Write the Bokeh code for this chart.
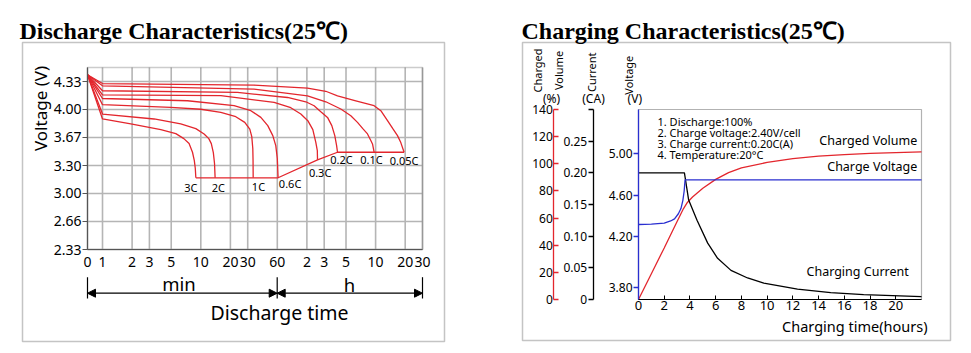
import math
from bokeh.plotting import figure
from bokeh.models import Range1d, FixedTicker, LinearAxis, Label, BoxAnnotation, Arrow, NormalHead
from bokeh.layouts import row
from bokeh.embed import file_html
from bokeh.resources import INLINE
from bokeh.core.properties import value

RED = "#e3262d"
BLUE = "#2a2fd0"
FONT = "Noto Sans"
TITLE_FONT = "Liberation Serif"

# ---------------- Discharge characteristics data ----------------
X_START = 0.7036          # the "0" position of the time axis (minutes)
X_END = 1800              # 30 h in minutes
V_START = 4.413           # common starting voltage
V_BOTTOM, V_TOP = 2.333, 4.5
DIS_TICKS = [X_START, 1, 2, 3, 5, 10, 20, 30, 60, 120, 180, 300, 600, 1200, 1800]
DIS_TICK_LABELS = ["0", "1", "2", "3", "5", "10", "20", "30", "60", "2", "3", "5", "10", "20", "30"]
V_TICKS = [2.333, 2.667, 3.000, 3.333, 3.667, 4.000, 4.333]
V_TICK_LABELS = ["2.33", "2.66", "3.00", "3.30", "3.67", "4.00", "4.33"]

T_3C = [X_START, 1, 1.94, 3.92, 5.57, 6.72, 7.60, 8.23, 8.59, 8.79, 8.90]
V_3C = [V_START, 3.887, 3.828, 3.760, 3.713, 3.653, 3.594, 3.491, 3.392, 3.297, 3.187]
T_2C = [X_START, 1, 3.35, 6.25, 8.90, 10.8, 12.06, 12.79, 13.41, 13.79, 13.98]
V_2C = [V_START, 3.946, 3.887, 3.828, 3.772, 3.709, 3.653, 3.594, 3.487, 3.357, 3.187]
T_1C = [X_START, 1, 4.95, 10, 15.98, 22.7, 28.0, 31.5, 33.0, 33.8, 34.0, 34.1]
V_1C = [V_START, 4.057, 4.025, 4.003, 3.965, 3.914, 3.847, 3.766, 3.677, 3.535, 3.392, 3.187]
T_06C = [X_START, 1, 7.32, 21.8, 32.3, 40.8, 48.0, 54.0, 57.9, 60.0, 61.1]
V_06C = [V_START, 4.131, 4.104, 4.045, 3.986, 3.906, 3.808, 3.689, 3.570, 3.416, 3.187]
T_03C = [X_START, 1, 16.0, 55.7, 82.3, 104.1, 122.6, 137.9, 147.9, 153.2, 153.9]
V_03C = [V_START, 4.175, 4.164, 4.084, 4.021, 3.946, 3.867, 3.760, 3.609, 3.511, 3.401]
T_02C = [X_START, 1, 23.6, 76.2, 117.0, 142.1, 166.3, 194.5, 215.1, 230.7, 240.7, 245.8]
V_02C = [V_START, 4.223, 4.203, 4.143, 4.092, 4.045, 3.974, 3.906, 3.808, 3.689, 3.570, 3.491]
T_01C = [X_START, 1, 34.8, 121.8, 186.9, 265.6, 335.7, 392.6, 444.6, 496.4, 536.3, 558.1, 579.4]
V_01C = [V_START, 4.282, 4.243, 4.163, 4.092, 4.006, 3.926, 3.847, 3.772, 3.709, 3.630, 3.590, 3.491]
T_005C = [X_START, 1, 34.8, 121.8, 186.9, 245.8, 377.5, 579.4, 677.9, 793.3, 898.1, 1002, 1083, 1169.5]
V_005C = [V_START, 4.309, 4.290, 4.255, 4.217, 4.163, 4.104, 4.045, 3.986, 3.867, 3.772, 3.689, 3.606, 3.491]

RATES = ["3C", "2C", "1C", "0.6C", "0.3C", "0.2C", "0.1C", "0.05C"]
RATE_LABEL_T = [7.91, 15.1, 38.6, 81, 163.6, 270, 545, 1170]
RATE_LABEL_V = [3.076, 3.076, 3.084, 3.116, 3.254, 3.404, 3.404, 3.392]

# ---------------- Charging characteristics data ----------------
H_MAX = 22
CH_X_TICKS = [0, 2, 4, 6, 8, 10, 12, 14, 16, 18, 20]
VOLT_RANGE = (3.590, 5.429)
VOLT_TICKS = [3.707, 4.2, 4.6, 5.0]
VOLT_TICK_LABELS = ["3.80", "4.20", "4.60", "5.00"]
CUR_RANGE = (0, 0.30)
CUR_TICKS = [0, 0.05, 0.10, 0.15, 0.20, 0.25, 0.30]
CUR_TICK_LABELS = ["0", "0.05", "0.10", "0.15", "0.20", "0.25", ""]
VOL_RANGE = (0, 140)
VOL_TICKS = [0, 20, 40, 60, 80, 100, 120, 140]
VOL_TICK_LABELS = ["0", "20", "40", "60", "80", "100", "120", "140"]

T_VOL = [0, 1, 2, 3, 3.5, 3.8, 4.2, 5, 6, 7, 8, 10, 12, 14, 16, 18, 20, 22]
VOL = [0, 19, 38, 57.5, 67, 71.5, 75.5, 82, 88.5, 93.5, 97, 101, 103.8, 105.6, 106.8, 107.6, 108.2, 108.8]
T_CUR = [0, 3.57, 3.9, 4.55, 5.38, 6.15, 7.19, 8.48, 9.74, 12.36, 14.94, 17.5, 22]
CUR = [0.20, 0.20, 0.157, 0.125, 0.089, 0.065, 0.046, 0.034, 0.026, 0.0165, 0.0107, 0.0076, 0.0044]
T_VOLT = [0, 1, 2, 2.5, 2.8, 3.1, 3.3, 3.45, 3.55, 3.62, 22]
VOLT = [4.316, 4.32, 4.33, 4.35, 4.37, 4.42, 4.47, 4.55, 4.64, 4.748, 4.748]

NOTES = ["1. Discharge:100%", "2. Charge voltage:2.40V/cell",
         "3. Charge current:0.20C(A)", "4. Temperature:20°C"]

H = 353

# =============== Left figure (frame = whole canvas) ===============
LW = 485
L_BOX = (87, 422, 67, 249)    # pixel box of the plotting area: left, right, top, bottom
lg0, lg1 = math.log10(X_START), math.log10(X_END)
dpp = (lg1 - lg0) / (L_BOX[1] - L_BOX[0])
vpp = (V_TOP - V_BOTTOM) / (L_BOX[3] - L_BOX[2])
pL = figure(width=LW, height=H, x_axis_type="log", title=None,
            x_range=Range1d(10 ** (lg0 - L_BOX[0] * dpp), 10 ** (lg1 + (LW - L_BOX[1]) * dpp)),
            y_range=Range1d(V_BOTTOM - (H - L_BOX[3]) * vpp, V_TOP + L_BOX[2] * vpp),
            output_backend="svg", toolbar_location=None, min_border=0)
pL.outline_line_color = None
pL.grid.visible = False

xa = pL.xaxis[0]
xa.fixed_location = V_BOTTOM
xa.bounds = (X_START, X_END)
xa.ticker = FixedTicker(ticks=DIS_TICKS)
xa.major_label_overrides = {t: l for t, l in zip(DIS_TICKS, DIS_TICK_LABELS)}
xa.major_tick_out = 0
xa.major_tick_in = 0
xa.minor_tick_out = 0
xa.minor_tick_in = 0
xa.axis_line_color = "#555555"
xa.major_label_text_font = FONT
xa.major_label_text_font_size = "14px"
xa.major_label_text_color = "black"
xa.major_label_standoff = 7

ya = pL.yaxis[0]
ya.fixed_location = X_START
ya.bounds = (V_BOTTOM, V_TOP)
ya.ticker = FixedTicker(ticks=V_TICKS)
ya.major_label_overrides = {t: l for t, l in zip(V_TICKS, V_TICK_LABELS)}
ya.major_tick_out = 5
ya.major_tick_in = 0
ya.minor_tick_out = 0
ya.major_tick_line_color = "#555555"
ya.axis_line_color = "#555555"
ya.major_label_text_font = FONT
ya.major_label_text_font_size = "14px"
ya.major_label_text_color = "black"
ya.major_label_standoff = 1

# grid lines, limited to the plotting area
pL.segment(x0=DIS_TICKS, y0=[V_BOTTOM] * len(DIS_TICKS), x1=DIS_TICKS, y1=[V_TOP] * len(DIS_TICKS),
           line_color="#b5b5b5", line_width=1.6)
pL.segment(x0=[X_START] * len(V_TICKS), y0=V_TICKS, x1=[X_END] * len(V_TICKS), y1=V_TICKS,
           line_color="#b5b5b5", line_width=1.6)
pL.add_layout(BoxAnnotation(left=X_START, right=X_END, bottom=V_BOTTOM, top=V_TOP,
                            fill_alpha=0, line_color="#555555", line_width=1.5))

curves = [(T_3C, V_3C), (T_2C, V_2C), (T_1C, V_1C), (T_06C, V_06C),
          (T_03C, V_03C), (T_02C, V_02C), (T_01C, V_01C), (T_005C, V_005C)]
for t, v in curves:
    pL.line(t, v, line_color=RED, line_width=1.3)
# end-of-discharge locus through the curve ends
pL.line([t[-1] for t, v in curves], [v[-1] for t, v in curves], line_color=RED, line_width=1.3)
pL.text(x=RATE_LABEL_T, y=RATE_LABEL_V, text=RATES, text_font=value(FONT),
        text_font_size="11px", text_align="center", text_baseline="middle", text_color="black")

# decorations, in screen units of the frame (x from left, y up from bottom)
def lx(cx): return cx
def ly(cy): return H - cy

pL.add_layout(BoxAnnotation(left=lx(22), right=lx(444), bottom=ly(341), top=ly(42),
                            left_units="screen", right_units="screen",
                            bottom_units="screen", top_units="screen",
                            fill_alpha=0, line_color="#3a3a3a", line_width=1.5))
pL.add_layout(Label(x=lx(19), y=ly(30.5), x_units="screen", y_units="screen",
                    text="Discharge Characteristics(25℃)", text_font=TITLE_FONT,
                    text_font_style="bold", text_font_size="24px", text_color="black",
                    text_baseline="alphabetic", text_align="left"))
pL.add_layout(Label(x=lx(40), y=ly(108), x_units="screen", y_units="screen",
                    text="Voltage (V)", angle=math.pi / 2, text_font=FONT,
                    text_font_size="17px", text_color="black",
                    text_align="center", text_baseline="middle"))
for cx in (87, 276.7, 422):
    pL.add_layout(Arrow(x_start=lx(cx), y_start=ly(276.7), x_end=lx(cx), y_end=ly(298),
                        start_units="screen", end_units="screen", end=None,
                        line_color="black", line_width=1.2))
for a, b in ((87, 276.7), (276.7, 422)):
    pL.add_layout(Arrow(x_start=lx(a), y_start=ly(292.7), x_end=lx(b), y_end=ly(292.7),
                        start_units="screen", end_units="screen",
                        start=NormalHead(size=8, fill_color="black", line_color="black"),
                        end=NormalHead(size=8, fill_color="black", line_color="black"),
                        line_color="black", line_width=1.2))
for txt, cx, cy, fs in (("min", 178.5, 283, "18.5px"), ("h", 349, 283.5, "18.5px"),
                        ("Discharge time", 279, 312, "19.5px")):
    pL.add_layout(Label(x=lx(cx), y=ly(cy), x_units="screen", y_units="screen", text=txt,
                        text_font=FONT, text_font_size=fs, text_color="black",
                        text_align="center", text_baseline="middle"))

# =============== Right figure (frame = whole canvas) ===============
RW = 486
R_X0 = 485                     # canvas offset of this figure
R_BOX = (638, 921, 109, 299)   # pixel box of the plotting area (page coordinates)
hpp = H_MAX / (R_BOX[1] - R_BOX[0])
def yext(lo, hi):
    upp = (hi - lo) / (R_BOX[3] - R_BOX[2])
    return Range1d(lo - (H - R_BOX[3]) * upp, hi + R_BOX[2] * upp)
def hx(cx):   # page pixel -> hours (for axis placement)
    return (cx - R_BOX[0]) * hpp

pR = figure(width=RW, height=H, title=None,
            x_range=Range1d(-(R_BOX[0] - R_X0) * hpp, H_MAX + (R_X0 + RW - R_BOX[1]) * hpp),
            y_range=yext(*VOLT_RANGE),
            output_backend="svg", toolbar_location=None, min_border=0)
pR.extra_y_ranges = {"cur": yext(*CUR_RANGE), "vol": yext(*VOL_RANGE)}
pR.grid.visible = False
pR.outline_line_color = None

pR.add_layout(BoxAnnotation(left=0, right=H_MAX, bottom=VOLT_RANGE[0], top=VOLT_RANGE[1],
                            fill_alpha=0, line_color="black", line_width=1.2, level="underlay"))

rxa = pR.xaxis[0]
rxa.fixed_location = VOLT_RANGE[0]
rxa.bounds = (0, H_MAX)
rxa.ticker = FixedTicker(ticks=CH_X_TICKS)
rxa.major_tick_in = 4
rxa.major_tick_out = 0
rxa.minor_tick_in = 0
rxa.minor_tick_out = 0
rxa.major_tick_line_color = "black"
rxa.axis_line_color = "black"
rxa.axis_line_width = 1.2
rxa.major_label_text_font = FONT
rxa.major_label_text_font_size = "13px"
rxa.major_label_text_color = "black"
rxa.major_label_standoff = 1

def style_y(ax, ticks, labels, color, tin, tout, loc, bounds):
    ax.fixed_location = loc
    ax.bounds = bounds
    ax.ticker = FixedTicker(ticks=ticks)
    ax.major_label_overrides = {t: l for t, l in zip(ticks, labels)}
    ax.major_tick_in = tin
    ax.major_tick_out = tout
    ax.minor_tick_in = 0
    ax.minor_tick_out = 0
    ax.major_tick_line_color = color
    ax.axis_line_color = color
    ax.axis_line_width = 1.3
    ax.major_tick_line_width = 1.3
    ax.major_label_text_font = FONT
    ax.major_label_text_font_size = "12px"
    ax.major_label_text_color = "black"
    ax.major_label_standoff = 1

style_y(pR.yaxis[0], VOLT_TICKS, VOLT_TICK_LABELS, BLUE, 0, 5, 0, VOLT_RANGE)
cur_axis = LinearAxis(y_range_name="cur")
style_y(cur_axis, CUR_TICKS, CUR_TICK_LABELS, "black", 0, 5, hx(592.7), CUR_RANGE)
pR.add_layout(cur_axis, "left")
vol_axis = LinearAxis(y_range_name="vol")
style_y(vol_axis, VOL_TICKS, VOL_TICK_LABELS, RED, 5, 0, hx(553.3), VOL_RANGE)
pR.add_layout(vol_axis, "left")

pR.line(T_VOL, VOL, y_range_name="vol", line_color=RED, line_width=1.3)
pR.line(T_CUR, CUR, y_range_name="cur", line_color="black", line_width=1.3)
pR.line(T_VOLT, VOLT, line_color=BLUE, line_width=1.3)

def rx(cx): return cx - R_X0
def ry(cy): return H - cy

pR.add_layout(BoxAnnotation(left=rx(522), right=rx(950), bottom=ry(340), top=ry(42),
                            left_units="screen", right_units="screen",
                            bottom_units="screen", top_units="screen",
                            fill_alpha=0, line_color="#3a3a3a", line_width=1.5))
pR.add_layout(Label(x=rx(521), y=ry(30.5), x_units="screen", y_units="screen",
                    text="Charging Characteristics(25℃)", text_font=TITLE_FONT,
                    text_font_style="bold", text_font_size="24px", text_color="black",
                    text_baseline="alphabetic", text_align="left"))
for i, note in enumerate(NOTES):
    pR.add_layout(Label(x=rx(657), y=ry(120.7 + 11 * i), x_units="screen", y_units="screen",
                        text=note, text_font=FONT, text_font_size="11px", text_color="black",
                        text_align="left", text_baseline="middle"))
for txt, cx, cy, al, fs in (("Charged Volume", 916.7, 140, "right", "12.5px"),
                            ("Charge Voltage", 916.7, 166, "right", "12.5px"),
                            ("Charging Current", 806, 271, "left", "12.5px"),
                            ("Charging time(hours)", 927, 325, "right", "14.5px"),
                            ("(%)", 551, 98, "center", "12px"),
                            ("(CA)", 593, 98, "center", "12px"),
                            ("(V)", 634.3, 98, "center", "12px")):
    pR.add_layout(Label(x=rx(cx), y=ry(cy), x_units="screen", y_units="screen", text=txt,
                        text_font=FONT, text_font_size=fs, text_color="black",
                        text_align=al, text_baseline="middle"))
for txt, cx, cy in (("Charged", 536.7, 70), ("Volume", 557.5, 70),
                    ("Current", 591, 71.7), ("Voltage", 627.7, 74.7)):
    pR.add_layout(Label(x=rx(cx), y=ry(cy), x_units="screen", y_units="screen", text=txt,
                        angle=math.pi / 2, text_font=FONT, text_font_size="11px",
                        text_color="black", text_align="center", text_baseline="middle"))

layout = row(pL, pR)
open("out.html", "w").write(file_html(layout, INLINE))
